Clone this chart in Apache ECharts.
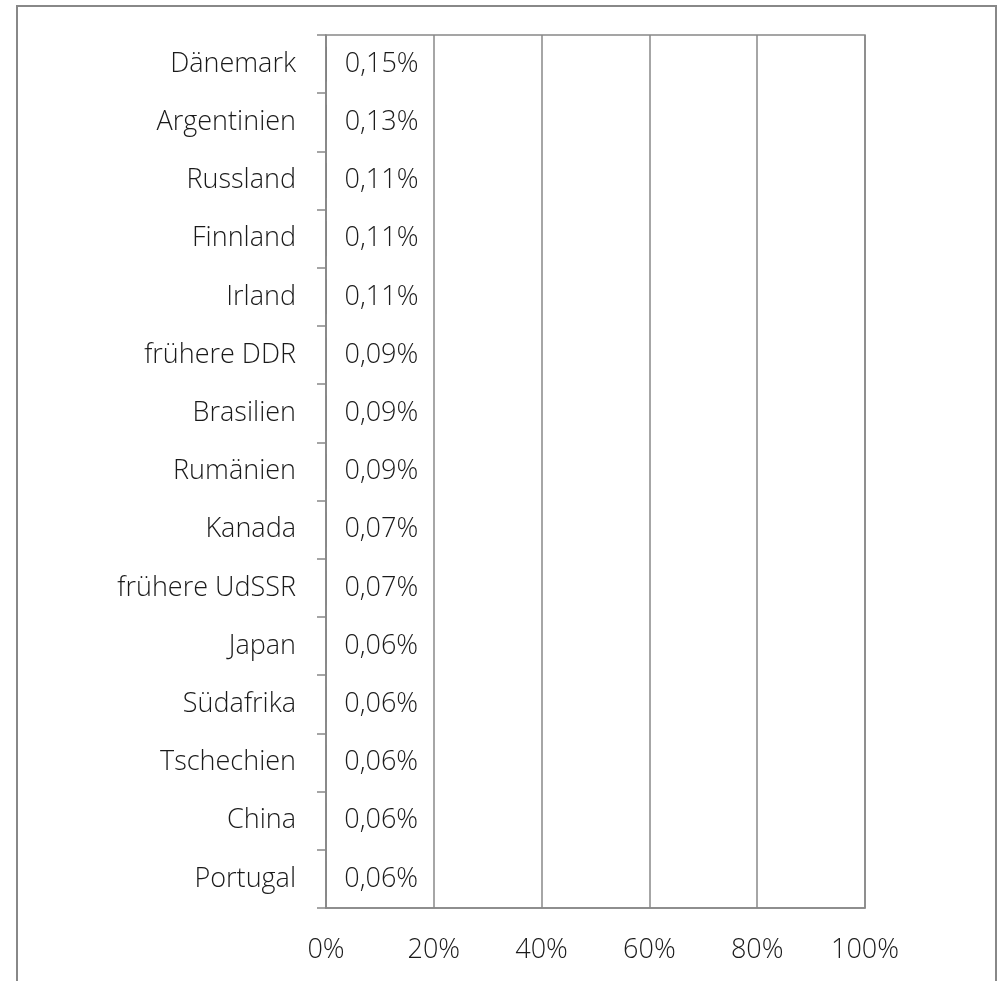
<!DOCTYPE html>
<html>
<head>
<meta charset="utf-8">
<script src="https://cdn.jsdelivr.net/npm/echarts@6/dist/echarts.min.js"></script>
<style>
  html, body { margin: 0; padding: 0; background: #fff; }
  #chart { width: 999px; height: 981px; }
</style>
</head>
<body>
<div id="chart"></div>
<script>
// Länder, von oben nach unten
var countries = ['Dänemark', 'Argentinien', 'Russland', 'Finnland', 'Irland', 'frühere DDR',
	'Brasilien', 'Rumänien', 'Kanada', 'frühere UdSSR', 'Japan', 'Südafrika',
	'Tschechien', 'China', 'Portugal']
// Anteil in Prozent
var shares = [0.15, 0.13, 0.11, 0.11, 0.11, 0.09, 0.09, 0.09, 0.07, 0.07, 0.06, 0.06, 0.06, 0.06, 0.06]
var xTicks = [0, 20, 40, 60, 80, 100]

var font = '"Open Sans", "DejaVu Sans", sans-serif'
var lineColor = '#888888'
var textColor = '#1a1a1a'

let myChart = echarts.init(document.getElementById('chart'))

option = {
	animation: false,
	textStyle: { fontFamily: font },
	graphic: [{
		type: 'rect',
		shape: { x: 17, y: 6, width: 979, height: 1000 },
		style: { fill: 'none', stroke: lineColor, lineWidth: 2 },
		silent: true
	}],
	grid: {
		left: 326,
		right: 134,
		top: 35,
		bottom: 73,
		show: true,
		borderColor: lineColor,
		borderWidth: 1.5
	},
	xAxis: {
		type: 'value',
		min: xTicks[0],
		max: xTicks[xTicks.length - 1],
		interval: 20,
		axisLine: { show: true, lineStyle: { color: lineColor, width: 1.5 } },
		axisTick: { show: false },
		splitLine: { show: true, lineStyle: { color: lineColor, width: 1.5 } },
		axisLabel: {
			margin: 29,
			fontSize: 27,
			fontWeight: 300,
			color: textColor,
			formatter: function (v) { return v + '%' }
		}
	},
	yAxis: {
		type: 'category',
		inverse: true,
		data: countries,
		axisLine: { show: true, lineStyle: { color: lineColor, width: 1.5 } },
		axisTick: { show: true, length: 9, lineStyle: { color: lineColor, width: 1.5 } },
		axisLabel: {
			margin: 30,
			fontSize: 27,
			fontWeight: 300,
			color: textColor
		}
	},
	series: [{
		type: 'bar',
		data: shares,
		barWidth: '60%',
		itemStyle: { color: '#7f7f7f' },
		label: {
			show: true,
			position: 'right',
			distance: 18,
			fontSize: 27,
			fontWeight: 300,
			color: textColor,
			formatter: function (p) { return p.value.toFixed(2).replace('.', ',') + '%' }
		}
	}]
}
myChart.setOption(option);
</script>
</body>
</html>
